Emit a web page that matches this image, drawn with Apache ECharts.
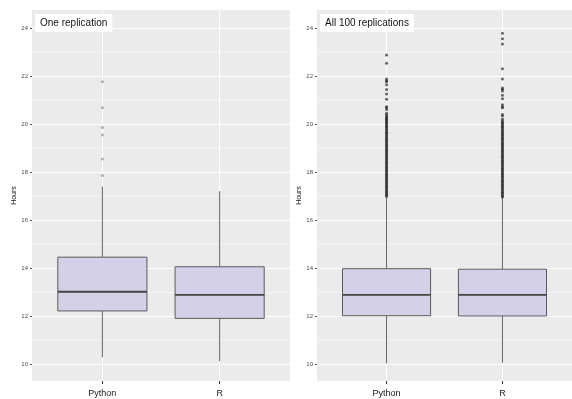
<!DOCTYPE html>
<html>
<head>
<meta charset="utf-8">
<script src="https://cdn.jsdelivr.net/npm/echarts@6/dist/echarts.min.js"></script>
<style>
html,body{margin:0;padding:0;background:#fff;}
#chart{width:572px;height:399px;}
</style>
</head>
<body>
<div id="chart"></div>
<script>
// ---- data ----
const categories = ['Python', 'R'];
const panelTitles = ['One replication', 'All 100 replications'];
const yTicks = [10, 12, 14, 16, 18, 20, 22, 24];
const yMinorTicks = [11, 13, 15, 17, 19, 21, 23];
// [min whisker, Q1, median, Q3, max whisker]
const oneRepPython = [10.28, 12.21, 13.01, 14.45, 17.39];
const oneRepR = [10.11, 11.90, 12.875, 14.05, 17.20];
const allRepPython = [10.03, 12.01, 12.875, 13.97, 16.93];
const allRepR = [10.05, 12.00, 12.875, 13.95, 16.93];
// outliers
const oneRepOutPython = [21.76, 20.68, 19.85, 19.54, 18.54, 17.85];
const oneRepOutR = [];
const allRepOutPython = [22.87, 22.53, 21.87, 21.80, 21.76, 21.63, 21.44, 21.25, 21.03, 20.72, 20.68, 20.60, 20.45, 20.38,
  20.31, 20.27, 20.22, 20.18, 20.13, 20.09, 20.04, 19.99, 19.93, 19.88, 19.83, 19.77, 19.72, 19.66, 19.61, 19.55,
  19.50, 19.44, 19.39, 19.33, 19.28, 19.22, 19.17, 19.11, 19.06, 19.00, 18.95, 18.89, 18.84, 18.78, 18.73, 18.67,
  18.62, 18.56, 18.51, 18.45, 18.40, 18.34, 18.29, 18.23, 18.18, 18.12, 18.07, 18.01, 17.96, 17.90, 17.85, 17.79,
  17.74, 17.68, 17.63, 17.57, 17.52, 17.46, 17.41, 17.35, 17.30, 17.24, 17.19, 17.13, 17.08, 17.03, 16.98];
const allRepOutR = [23.78, 23.55, 23.33, 22.30, 21.87, 21.50, 21.45, 21.37, 21.20, 21.05, 20.80, 20.72, 20.68, 20.40,
  20.33, 20.20, 20.12, 20.07, 20.02, 19.97, 19.91, 19.86, 19.80, 19.75, 19.69, 19.64, 19.58, 19.53, 19.47, 19.42,
  19.36, 19.31, 19.25, 19.20, 19.14, 19.09, 19.03, 18.98, 18.92, 18.87, 18.81, 18.76, 18.70, 18.65, 18.59, 18.54,
  18.48, 18.43, 18.37, 18.32, 18.26, 18.21, 18.15, 18.10, 18.04, 17.99, 17.93, 17.88, 17.82, 17.77, 17.71, 17.66,
  17.60, 17.55, 17.49, 17.44, 17.38, 17.33, 17.27, 17.22, 17.16, 17.11, 17.05, 17.00, 16.96];

const Y_MIN = 9.29, Y_MAX = 24.75;
const BOX_FILL = '#d4d0e8';

const chart = echarts.init(document.getElementById('chart'), null, {renderer: 'canvas'});

const panels = [
  {left: 32, boxes: [oneRepPython, oneRepR], outs: [oneRepOutPython, oneRepOutR], outColor: 'rgba(120,120,120,0.7)', outSize: 3},
  {left: 317, boxes: [allRepPython, allRepR], outs: [allRepOutPython, allRepOutR], outColor: 'rgba(35,35,35,0.85)', outSize: 3}
];

const grids = [], xAxes = [], yAxes = [], series = [], titles = [];

function renderBox(params, api) {
  const x = api.value(0);
  const pMin = api.coord([x, api.value(1)]);
  const pQ1 = api.coord([x, api.value(2)]);
  const pMed = api.coord([x, api.value(3)]);
  const pQ3 = api.coord([x, api.value(4)]);
  const pMax = api.coord([x, api.value(5)]);
  const half = api.size([0.38, 0])[0];
  const cx = pMed[0];
  const wStyle = {stroke: '#666', lineWidth: 1};
  return {
    type: 'group',
    children: [
      {type: 'line', shape: {x1: cx, y1: pMax[1], x2: cx, y2: pQ3[1]}, style: wStyle},
      {type: 'line', shape: {x1: cx, y1: pQ1[1], x2: cx, y2: pMin[1]}, style: wStyle},
      {type: 'rect', shape: {x: cx - half, y: pQ3[1], width: 2 * half, height: pQ1[1] - pQ3[1]},
        style: {fill: BOX_FILL, stroke: '#5a5a5a', lineWidth: 1}},
      {type: 'line', shape: {x1: cx - half, y1: pMed[1], x2: cx + half, y2: pMed[1]},
        style: {stroke: '#444', lineWidth: 1.8}}
    ]
  };
}

panels.forEach((p, i) => {
  grids.push({left: p.left, top: 10, width: 258, bottom: 18, show: true, backgroundColor: '#ebebeb', borderWidth: 0});
  xAxes.push({
    gridIndex: i, type: 'value', min: 0.4, max: 2.6,
    axisLine: {show: false},
    axisTick: {show: true, customValues: [1, 2], length: 3, lineStyle: {color: '#333', width: 1}},
    axisLabel: {customValues: [1, 2], formatter: v => categories[Math.round(v) - 1] || '', fontSize: 9,
      color: '#1a1a1a', margin: 8, fontFamily: 'Liberation Sans'},
    splitLine: {show: true, lineStyle: {color: '#ffffff', width: 1}}
  });
  // major y axis
  yAxes.push({
    gridIndex: i, type: 'value', min: Y_MIN, max: Y_MAX,
    name: 'Hours', nameLocation: 'middle', nameRotate: 90, nameGap: 7,
    nameTextStyle: {fontSize: 7, color: '#111', fontFamily: 'Liberation Sans'},
    axisLine: {show: false},
    axisTick: {show: true, customValues: yTicks, length: 2, lineStyle: {color: '#555'}},
    axisLabel: {customValues: yTicks, fontSize: 6, color: '#4d4d4d', margin: 4, fontFamily: 'Liberation Sans'},
    splitLine: {show: true, lineStyle: {color: '#ffffff', width: 1.1}}
  });
  // minor grid lines
  yAxes.push({
    gridIndex: i, type: 'value', min: Y_MIN, max: Y_MAX, position: 'left',
    axisLine: {show: false},
    axisTick: {show: false, customValues: yMinorTicks},
    axisLabel: {show: false, customValues: yMinorTicks},
    splitLine: {show: true, lineStyle: {color: '#f7f7f7', width: 0.7}}
  });
  series.push({
    type: 'custom', xAxisIndex: i, yAxisIndex: 2 * i, z: 3,
    renderItem: renderBox,
    encode: {x: 0, y: [1, 2, 3, 4, 5]},
    data: p.boxes.map((b, k) => [k + 1].concat(b))
  });
  p.outs.forEach((arr, k) => {
    series.push({
      type: 'scatter', xAxisIndex: i, yAxisIndex: 2 * i, z: 4,
      symbol: 'circle', symbolSize: p.outSize,
      itemStyle: {color: p.outColor},
      data: arr.map(v => [k + 1, v])
    });
  });
  titles.push({
    text: panelTitles[i], left: p.left + 3, top: 14,
    backgroundColor: '#ffffff', padding: [4, 5, 4, 5],
    textStyle: {fontSize: 10, fontWeight: 'normal', color: '#111', fontFamily: 'Liberation Sans'}
  });
});

chart.setOption({
  animation: false,
  backgroundColor: '#ffffff',
  title: titles,
  grid: grids,
  xAxis: xAxes,
  yAxis: yAxes,
  series: series
});
</script>
</body>
</html>
